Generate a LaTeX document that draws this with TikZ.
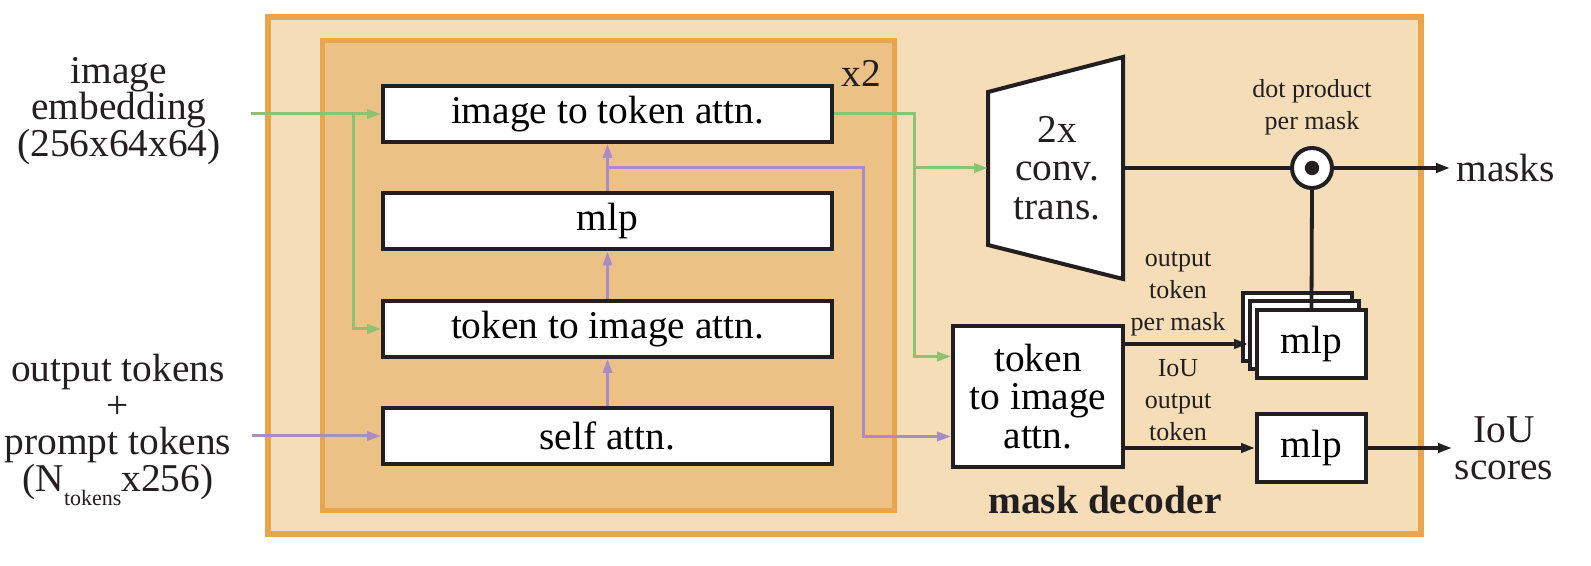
\documentclass[tikz,border=0pt]{standalone}
\usepackage{fontspec}
\setmainfont{Liberation Serif}
\usetikzlibrary{arrows.meta,calc}

\definecolor{decfill}{HTML}{F5DDB7}
\definecolor{loopfill}{HTML}{EBC186}
\definecolor{framecol}{HTML}{E9A44E}
\definecolor{imgline}{HTML}{8DC270}
\definecolor{tokline}{HTML}{A98BC6}
\definecolor{ink}{HTML}{231F20}

\newcommand{\bigtxt}{\fontsize{19.7}{19.2}\selectfont}
\newcommand{\labtxt}{\fontsize{19.7}{18.4}\selectfont}
\newcommand{\smalltxt}{\fontsize{13}{16}\selectfont}

\tikzset{
  blk/.style={draw=ink, line width=2pt, fill=white, inner sep=0pt, font=\bigtxt, align=center},
  rowblk/.style={blk, minimum width=224.5pt, minimum height=28pt},
  mlpblk/.style={blk, minimum width=54.5pt, minimum height=34pt},
  tip/.style={-{Triangle[length=7pt,width=4.6pt]}},
  inkline/.style={draw=ink, line width=1.9pt},
  imgarr/.style={draw=imgline, line width=1.5pt},
  tokarr/.style={draw=tokline, line width=1.5pt},
  lbl/.style={inner sep=0pt, align=center, text=ink, font=\labtxt},
  sml/.style={inner sep=0pt, align=center, text=ink, font=\smalltxt},
}

\begin{document}
\begin{tikzpicture}[x=0.5pt, y=-0.5pt]
\path[use as bounding box] (0,0) rectangle (1591,566);

% mask decoder frame and the repeated (x2) block
\draw[framecol, line width=3pt, fill=decfill] (268,17) rectangle (1421,534);
\draw[framecol, line width=2.5pt, fill=loopfill] (322,41) rectangle (894,511);
\node[lbl] (rep) at (861,73) {x2};
\node[lbl, font=\fontsize{19.7}{19}\bfseries] (name) at (1105,500) {mask decoder};

% two-way transformer rows
\node[rowblk] (b1) at (607.5,114) {image to token attn.};
\node[rowblk] (b2) at (607.5,221.5) {mlp};
\node[rowblk] (b3) at (607.5,329) {token to image attn.};
\node[rowblk] (b4) at (607.5,436) {self attn.};

% inputs
\node[lbl] (imgemb) at (119,111) {image\\embedding\\(256x64x64)};
\node[lbl] (tokin) at (118,430) {output tokens\\+\\prompt tokens\\(N\raisebox{-7pt}{\fontsize{11}{11}\selectfont tokens}x256)};

% upsampling trapezoid
\coordinate (tTL) at (988,92);
\coordinate (tBL) at (988,245);
\coordinate (tTR) at (1123,57);
\coordinate (tBR) at (1123,279);
\coordinate (trapL) at (988,168);
\coordinate (trapR) at (1123,168);
\draw[draw=ink, line width=2pt, fill=white, line join=miter] (tTL) -- (tTR) -- (tBR) -- (tBL) -- cycle;
\node[lbl, font=\bigtxt] (convtxt) at (1057,168) {2x\\conv.\\trans.};

% final attention block
\node[blk, minimum width=85pt, minimum height=70.5pt] (rtti) at (1038,396.5) {token\\to image\\attn.};

% per-mask mlp stack
\node[mlpblk] (mlp3) at (1297.5,327) {};
\node[mlpblk] (mlp2) at (1304.5,335) {};
\node[mlpblk] (mlpf) at (1311.5,344) {mlp};
\node[mlpblk] (iou) at (1311.5,448) {mlp};

% dot product
\node[circle, draw=ink, line width=2pt, fill=white, minimum size=20pt, inner sep=0pt] (dot) at (1312,168) {};
\fill[ink] (dot.center) circle (3.6pt);
\node[sml] (dotlbl) at (1312,107) {dot product\\per mask};

% outputs
\coordinate (maskend) at (1450,168);
\node[lbl, anchor=west] (masks) at (1456,168) {masks};
\coordinate (iouend) at (1452,448);
\node[lbl] (scores) at (1504,448) {IoU\\scores};

\node[sml] (ptok) at (1178,294) {output\\token\\per mask};
\node[sml] (itok) at (1178,400) {IoU\\output\\token};

% image embedding path
\coordinate (gin) at (251,114);
\coordinate (gsplit) at (353,114);
\coordinate (gcol) at (914,114);
\coordinate (gin2) at ($(rtti.west)+(0,-40)$);
\draw[imgarr, tip] (gin) -- (b1.west);
\draw[imgarr, tip] (gsplit) |- (b3.west);
\draw[imgarr, tip] (b1.east) -| (gcol |- gin2) -- (gin2);
\draw[imgarr, tip] (gcol |- trapL) -- (trapL);

% token path
\coordinate (pin) at (252,436);
\coordinate (psplit) at ($(b1.south)!0.5!(b2.north)$);
\coordinate (pcol) at (863,168);
\coordinate (pin2) at ($(rtti.west)+(0,40)$);
\draw[tokarr, tip] (pin) -- (b4.west);
\draw[tokarr, tip] (b4.north) -- (b3.south);
\draw[tokarr, tip] (b3.north) -- (b2.south);
\draw[tokarr, tip] (b2.north) -- (b1.south);
\draw[tokarr, tip] (psplit) -| (pcol |- pin2) -- (pin2);

% heads
\draw[inkline] (trapR) -- (dot.west);
\draw[inkline, tip] (dot.east) -- (maskend);
\draw[inkline] (dot.south) -- (mlpf.north);
\draw[inkline, tip] (rtti.east |- mlpf.west) -- (mlp2.west |- mlpf.west);
\draw[inkline, tip] (rtti.east |- iou.west) -- (iou.west);
\draw[inkline, tip] (iou.east) -- (iouend);
\end{tikzpicture}
\end{document}
